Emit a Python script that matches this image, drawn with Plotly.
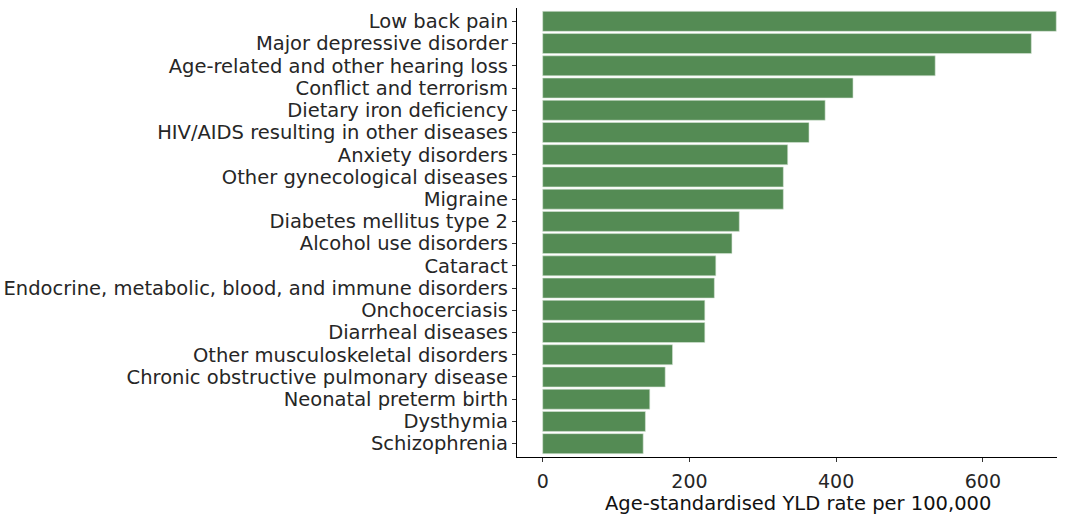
import plotly.graph_objects as go

causes = [
    "Low back pain",
    "Major depressive disorder",
    "Age-related and other hearing loss",
    "Conflict and terrorism",
    "Dietary iron deficiency",
    "HIV/AIDS resulting in other diseases",
    "Anxiety disorders",
    "Other gynecological diseases",
    "Migraine",
    "Diabetes mellitus type 2",
    "Alcohol use disorders",
    "Cataract",
    "Endocrine, metabolic, blood, and immune disorders",
    "Onchocerciasis",
    "Diarrheal diseases",
    "Other musculoskeletal disorders",
    "Chronic obstructive pulmonary disease",
    "Neonatal preterm birth",
    "Dysthymia",
    "Schizophrenia",
]
yld_rate = [700, 666, 535, 423, 385, 363, 334, 328, 328, 268,
            258, 236, 234, 221, 221, 177, 167, 146, 140, 137]
x_ticks = [0, 200, 400, 600]
x_title = "Age-standardised YLD rate per 100,000"

FONT = "DejaVu Sans, Liberation Sans, Arial, sans-serif"
TXT = "#262626"

fig = go.Figure(
    go.Bar(
        x=yld_rate,
        y=causes,
        orientation="h",
        width=0.9,
        marker=dict(color="#548B54", line=dict(color="#d8e6d8", width=0.6)),
        hoverinfo="x+y",
    )
)

fig.update_layout(
    width=1071,
    height=516,
    margin=dict(l=517, r=14, t=8, b=59, autoexpand=False),
    plot_bgcolor="white",
    paper_bgcolor="white",
    showlegend=False,
    font=dict(family=FONT, size=19.5, color=TXT),
    annotations=[
        dict(text=x_title, xref="paper", yref="paper", x=0.5204, y=0,
             yshift=-46, xanchor="center", yanchor="middle", showarrow=False,
             font=dict(family=FONT, size=19.5, color="#111111"))
    ],
)

fig.update_xaxes(
    range=[-35, 701],
    tickmode="array",
    tickvals=x_ticks,
    ticktext=[str(v) for v in x_ticks],
    showgrid=False,
    zeroline=False,
    showline=True,
    linecolor="black",
    linewidth=1.2,
    ticks="outside",
    ticklen=4,
    tickwidth=1,
    tickcolor="#333333",
    tickfont=dict(family=FONT, size=19, color=TXT),
    ticklabelstandoff=3,
    automargin=False,
)

fig.update_yaxes(
    type="category",
    range=[19.6, -0.6],
    tickmode="array",
    tickvals=causes,
    ticktext=causes,
    showgrid=False,
    zeroline=False,
    showline=True,
    linecolor="black",
    linewidth=1.2,
    ticks="outside",
    ticklen=4,
    tickwidth=1,
    tickcolor="#333333",
    tickfont=dict(family=FONT, size=19.5, color=TXT),
    ticklabelstandoff=0,
    automargin=False,
)

fig.write_html(
    "out.html",
    config={"displayModeBar": False},
    post_script="document.body.style.margin='0px';document.body.style.padding='0px';",
)
